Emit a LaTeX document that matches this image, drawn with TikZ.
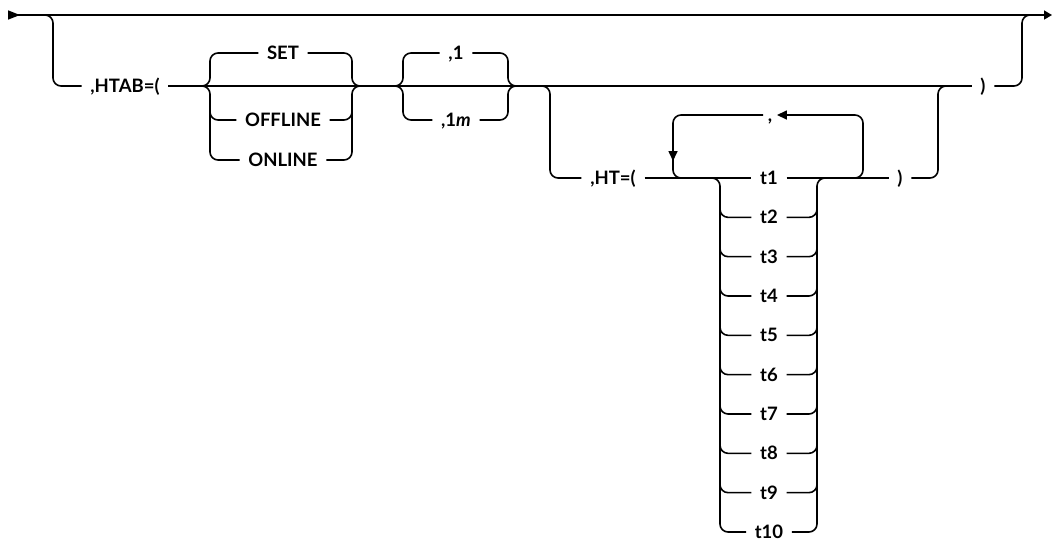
\documentclass[tikz,border=0pt]{standalone}
\usepackage{fontspec}
\setmainfont{Lato}
\usetikzlibrary{arrows.meta}

\tikzset{
    word/.style={inner xsep=8pt, inner ysep=0pt, text height=13pt, text depth=0pt,
        font=\fontsize{18.5}{22}\selectfont\bfseries},
    rail/.style={line width=1.6pt, rounded corners=8pt},
    tip/.style={-{Triangle[length=10pt, width=9pt]}}
}

\begin{document}
\begin{tikzpicture}[x=1pt, y=-1pt, rail]
    \useasboundingbox (0,0) rectangle (1052,542);

    \node[word] (htab) at (125,86) {,HTAB=(};
    \node[word] (set) at (283,53) {SET};
    \node[word] (offline) at (283,120) {OFFLINE};
    \node[word] (online) at (283,160) {ONLINE};
    \node[word] (one) at (456,53) {,1};
    \node[word] (onem) at (456,120) {,1\textit{m}};
    \node[word] (close1) at (983,86) {)};
    \node[word] (ht) at (613,178) {,HT=(};
    \node[word, inner xsep=4pt] (sep) at (770,115) {,};
    \foreach \i in {1,...,10}
        \node[word] (t\i) at (769,{178+(\i-1)*39.33}) {t\i};
    \node[word] (close2) at (900,178) {)};

    \draw[{Triangle[reversed, length=12pt, width=9pt]}-{Triangle[length=8pt, width=9pt]}]
        (8,15) -- (1052,15);
    \draw (30,15) -- (53,15) -- (53,86) -- (htab);
    \draw (htab) -- (close1);
    \draw (close1) -- (1022,86) -- (1022,15) -- (1040,15);

    \draw (set) -- (210,53) -- (210,86) -- (202,86);
    \draw (202,86) -- (210,86) -- (210,160) -- (online);
    \draw (210,108) -- (210,120) -- (offline);
    \draw (set) -- (352,53) -- (352,86) -- (360,86);
    \draw (360,86) -- (352,86) -- (352,160) -- (online);
    \draw (offline) -- (352,120) -- (352,108);

    \draw (one) -- (403,53) -- (403,86) -- (395,86);
    \draw (395,86) -- (403,86) -- (403,120) -- (onem);
    \draw (one) -- (508,53) -- (508,86) -- (516,86);
    \draw (516,86) -- (508,86) -- (508,120) -- (onem);

    \draw (535,86) -- (550,86) -- (550,178) -- (ht);
    \draw (ht) -- (t1) -- (close2);
    \draw (close2) -- (938,178) -- (938,86) -- (955,86);

    \draw[tip] (840,178) -- (863,178) -- (863,115) -- (sep);
    \draw[tip] (sep) -- (673,115) -- (673,161);
    \draw (673,155) -- (673,178) -- (690,178);

    \draw (705,178) -- (720,178) -- (720,532) -- (t10);
    \draw (t10) -- (817,532) -- (817,178) -- (832,178);
    \foreach \i in {2,...,9} {
        \pgfmathsetmacro\ty{178+(\i-1)*39.33}
        \draw (720,\ty-12) -- (720,\ty) -- (t\i);
        \draw (t\i) -- (817,\ty) -- (817,\ty-12);
    }
\end{tikzpicture}
\end{document}
